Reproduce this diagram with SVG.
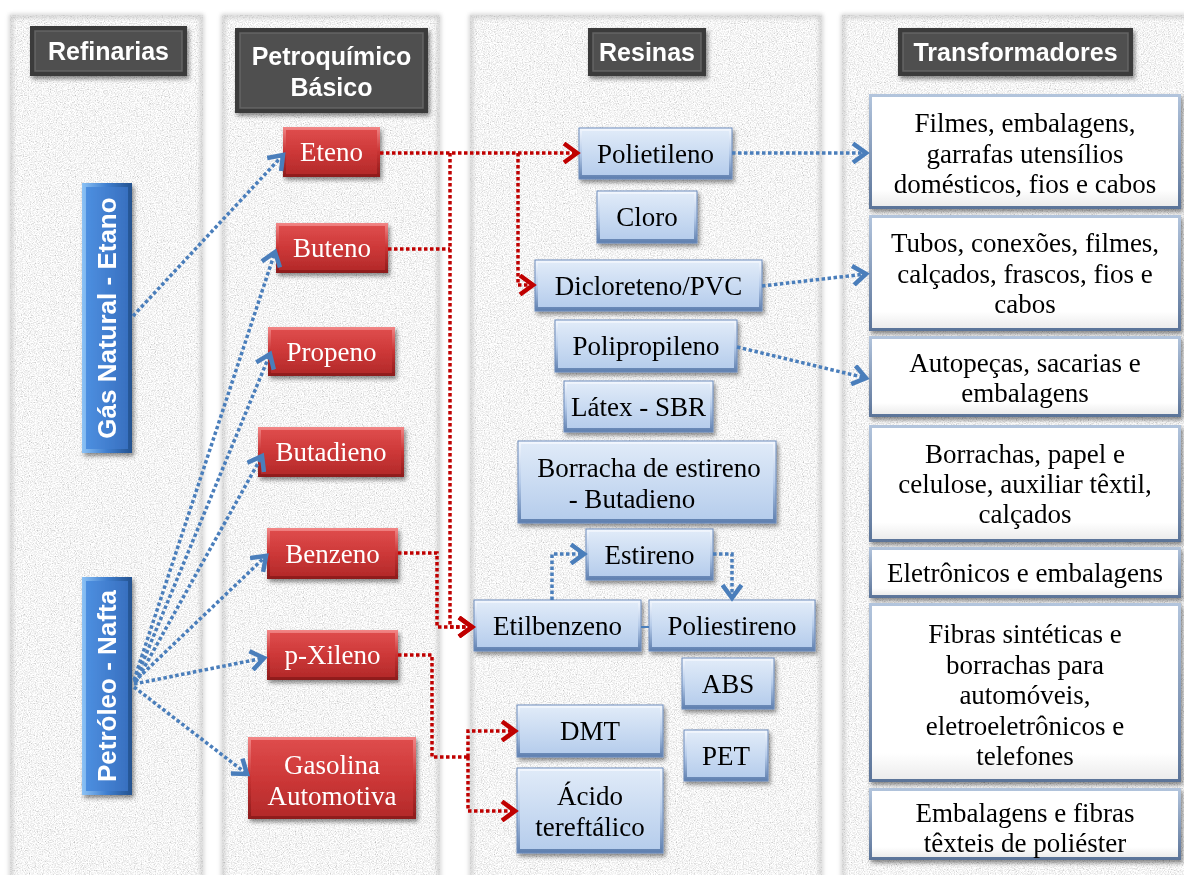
<svg xmlns="http://www.w3.org/2000/svg" width="1184" height="875" viewBox="0 0 1184 875">
<defs>
<style>
.hdr{font-family:"Liberation Sans",Arial,sans-serif;font-weight:bold;font-size:25px;fill:#fff;text-anchor:middle}
.vt{font-family:"Liberation Sans",Arial,sans-serif;font-weight:bold;font-size:26px;fill:#fff;text-anchor:middle}
.rt{font-family:"Liberation Serif","Times New Roman",serif;font-size:27px;fill:#fff;text-anchor:middle}
.bt{font-family:"Liberation Serif","Times New Roman",serif;font-size:27px;fill:#000;text-anchor:middle}
.red{fill:none;stroke:#c00000;stroke-width:3.5;stroke-dasharray:3.5 2.5}
.blue{fill:none;stroke:#4a7ebb;stroke-width:3.5;stroke-dasharray:3.5 2.5}
.col{fill:#e6e6e6}
.ho{fill:#3b3b3b}
.hi{fill:#4f4f4f;stroke:#646464;stroke-width:1.5}
.ro{fill:url(#redEdge)}
.ri{fill:url(#redBody)}
.bo{fill:url(#resEdge);stroke:#6c8cbc;stroke-width:1}
.bi{fill:url(#resBody)}
.to{fill:url(#trEdge)}
.ti{fill:url(#trBody)}
.lo{fill:url(#lbEdge)}
.li{fill:url(#lbBody)}
</style>
<filter id="tex" x="0" y="0" width="100%" height="100%">
<feTurbulence type="fractalNoise" baseFrequency="0.85" numOctaves="2" seed="7" result="n"/>
<feColorMatrix in="n" type="matrix" values="0.5 0.5 0.5 0 0.16  0.5 0.5 0.5 0 0.16  0.5 0.5 0.5 0 0.16  0 0 0 0 1" result="g"/>
<feComposite in="g" in2="SourceGraphic" operator="in"/>
</filter>
<filter id="edge" x="-5%" y="-5%" width="110%" height="110%">
<feGaussianBlur stdDeviation="2"/>
</filter>
<filter id="sh" x="-10%" y="-10%" width="130%" height="140%">
<feDropShadow dx="2" dy="3" stdDeviation="2" flood-color="#000" flood-opacity="0.45"/>
</filter>
<linearGradient id="redEdge" x1="0" y1="0" x2="0" y2="1">
<stop offset="0" stop-color="#f28686"/><stop offset="0.5" stop-color="#c83232"/><stop offset="1" stop-color="#8c1c1c"/>
</linearGradient>
<linearGradient id="redBody" x1="0" y1="0" x2="0" y2="1">
<stop offset="0" stop-color="#de4c4c"/><stop offset="0.5" stop-color="#cd3838"/><stop offset="1" stop-color="#b42a2a"/>
</linearGradient>
<linearGradient id="resEdge" x1="0" y1="0" x2="0" y2="1">
<stop offset="0" stop-color="#f4f8fe"/><stop offset="0.5" stop-color="#b6cbe9"/><stop offset="1" stop-color="#5d7eae"/>
</linearGradient>
<linearGradient id="resBody" x1="0" y1="0" x2="0" y2="1">
<stop offset="0" stop-color="#dfeaf8"/><stop offset="1" stop-color="#b6cdec"/>
</linearGradient>
<linearGradient id="trEdge" x1="0" y1="0" x2="0" y2="1">
<stop offset="0" stop-color="#b3c5dd"/><stop offset="1" stop-color="#5a7398"/>
</linearGradient>
<linearGradient id="trBody" x1="0" y1="0" x2="0" y2="1">
<stop offset="0" stop-color="#ffffff"/><stop offset="0.85" stop-color="#ffffff"/><stop offset="1" stop-color="#ececec"/>
</linearGradient>
<linearGradient id="lbEdge" x1="0" y1="0" x2="1" y2="0">
<stop offset="0" stop-color="#8cc2f5"/><stop offset="0.5" stop-color="#3f7ecf"/><stop offset="1" stop-color="#24528f"/>
</linearGradient>
<linearGradient id="lbBody" x1="0" y1="0" x2="1" y2="0">
<stop offset="0" stop-color="#4d8fe0"/><stop offset="1" stop-color="#3870c0"/>
</linearGradient>
<marker id="ar" viewBox="0 0 20 22" refX="16" refY="11" markerWidth="20" markerHeight="22" markerUnits="userSpaceOnUse" orient="auto">
<path d="M3,1.5 L16,11 L3,20.5" fill="none" stroke="#c00000" stroke-width="4.5"/>
</marker>
<marker id="ab" viewBox="0 0 20 22" refX="16" refY="11" markerWidth="20" markerHeight="22" markerUnits="userSpaceOnUse" orient="auto">
<path d="M3,1.5 L16,11 L3,20.5" fill="none" stroke="#4a7ebb" stroke-width="4.5"/>
</marker>
</defs>

<rect x="0" y="0" width="1184" height="875" fill="#ffffff"/>

<g id="columns">
<rect class="col" x="10" y="15" width="193" height="860"/>
<rect class="col" x="222" y="15" width="218" height="860"/>
<rect class="col" x="470" y="15" width="352" height="860"/>
<rect class="col" x="842" y="15" width="342" height="860"/>
<rect x="10" y="15" width="193" height="860" filter="url(#tex)"/>
<rect x="222" y="15" width="218" height="860" filter="url(#tex)"/>
<rect x="470" y="15" width="352" height="860" filter="url(#tex)"/>
<rect x="842" y="15" width="342" height="860" filter="url(#tex)"/>
<g fill="none" stroke="#b5b5b5" stroke-width="3" filter="url(#edge)" opacity="0.8">
<rect x="11" y="16" width="191" height="870"/>
<rect x="223" y="16" width="216" height="870"/>
<rect x="471" y="16" width="350" height="870"/>
<rect x="843" y="16" width="350" height="870"/>
</g>
</g>

<g id="h-refinarias" filter="url(#sh)">
<rect class="ho" x="30" y="26" width="157" height="50"/>
<rect class="hi" x="35" y="31" width="147" height="40"/>
<text class="hdr" x="108.5" y="60">Refinarias</text>
</g>
<g id="h-petroquimico" filter="url(#sh)">
<rect class="ho" x="235" y="28" width="193" height="85"/>
<rect class="hi" x="240" y="33" width="183" height="75"/>
<text class="hdr" x="331.5" y="65">Petroquímico</text>
<text class="hdr" x="331.5" y="96">Básico</text>
</g>
<g id="h-resinas" filter="url(#sh)">
<rect class="ho" x="588" y="28" width="118" height="48"/>
<rect class="hi" x="593" y="33" width="108" height="38"/>
<text class="hdr" x="647" y="61">Resinas</text>
</g>
<g id="h-transformadores" filter="url(#sh)">
<rect class="ho" x="898" y="28" width="235" height="48"/>
<rect class="hi" x="903" y="33" width="225" height="38"/>
<text class="hdr" x="1015.5" y="61">Transformadores</text>
</g>

<g id="n-gas" filter="url(#sh)">
<rect class="lo" x="82" y="183" width="50" height="270"/>
<rect class="li" x="86" y="187" width="42" height="262"/>
<text class="vt" transform="translate(116,318) rotate(-90)">Gás Natural - Etano</text>
</g>
<g id="n-petroleo" filter="url(#sh)">
<rect class="lo" x="82" y="577" width="50" height="218"/>
<rect class="li" x="86" y="581" width="42" height="210"/>
<text class="vt" transform="translate(116,686) rotate(-90)">Petróleo - Nafta</text>
</g>

<g id="n-eteno" filter="url(#sh)">
<rect class="ro" x="283" y="127" width="97" height="50"/>
<rect class="ri" x="286" y="130" width="91" height="44"/>
<text class="rt" x="331.5" y="161">Eteno</text>
</g>
<g id="n-buteno" filter="url(#sh)">
<rect class="ro" x="276" y="223" width="112" height="50"/>
<rect class="ri" x="279" y="226" width="106" height="44"/>
<text class="rt" x="332" y="257">Buteno</text>
</g>
<g id="n-propeno" filter="url(#sh)">
<rect class="ro" x="268" y="327" width="127" height="49"/>
<rect class="ri" x="271" y="330" width="121" height="43"/>
<text class="rt" x="331.5" y="361">Propeno</text>
</g>
<g id="n-butadieno" filter="url(#sh)">
<rect class="ro" x="258" y="427" width="146" height="50"/>
<rect class="ri" x="261" y="430" width="140" height="44"/>
<text class="rt" x="331" y="461">Butadieno</text>
</g>
<g id="n-benzeno" filter="url(#sh)">
<rect class="ro" x="267" y="528" width="131" height="51"/>
<rect class="ri" x="270" y="531" width="125" height="45"/>
<text class="rt" x="332.5" y="563">Benzeno</text>
</g>
<g id="n-pxileno" filter="url(#sh)">
<rect class="ro" x="267" y="630" width="131" height="50"/>
<rect class="ri" x="270" y="633" width="125" height="44"/>
<text class="rt" x="332.5" y="664">p-Xileno</text>
</g>
<g id="n-gasolina" filter="url(#sh)">
<rect class="ro" x="248" y="737" width="168" height="82"/>
<rect class="ri" x="251" y="740" width="162" height="76"/>
<text class="rt" x="332" y="774">Gasolina</text>
<text class="rt" x="332" y="805">Automotiva</text>
</g>

<g id="n-polietileno" filter="url(#sh)">
<rect class="bo" x="579" y="128" width="153" height="51"/>
<rect class="bi" x="582" y="131" width="147" height="44"/>
<text class="bt" x="655.5" y="163">Polietileno</text>
</g>
<g id="n-cloro" filter="url(#sh)">
<rect class="bo" x="597" y="191" width="100" height="52"/>
<rect class="bi" x="600" y="194" width="94" height="45"/>
<text class="bt" x="647" y="226">Cloro</text>
</g>
<g id="n-dicloreteno" filter="url(#sh)">
<rect class="bo" x="535" y="260" width="227" height="51"/>
<rect class="bi" x="538" y="263" width="221" height="44"/>
<text class="bt" x="648.5" y="295">Dicloreteno/PVC</text>
</g>
<g id="n-polipropileno" filter="url(#sh)">
<rect class="bo" x="555" y="320" width="182" height="52"/>
<rect class="bi" x="558" y="323" width="176" height="45"/>
<text class="bt" x="646" y="355">Polipropileno</text>
</g>
<g id="n-latex" filter="url(#sh)">
<rect class="bo" x="564" y="381" width="149" height="51"/>
<rect class="bi" x="567" y="384" width="143" height="44"/>
<text class="bt" x="638.5" y="416">Látex - SBR</text>
</g>
<g id="n-borracha" filter="url(#sh)">
<rect class="bo" x="518" y="441" width="258" height="82"/>
<rect class="bi" x="521" y="444" width="252" height="75"/>
<text class="bt" x="649" y="477">Borracha de estireno</text>
<text class="bt" x="632" y="508">- Butadieno</text>
</g>
<g id="n-estireno" filter="url(#sh)">
<rect class="bo" x="586" y="529" width="127" height="51"/>
<rect class="bi" x="589" y="532" width="121" height="44"/>
<text class="bt" x="649.5" y="564">Estireno</text>
</g>
<g id="n-etilbenzeno" filter="url(#sh)">
<rect class="bo" x="474" y="600" width="167" height="51"/>
<rect class="bi" x="477" y="603" width="161" height="44"/>
<text class="bt" x="557.5" y="635">Etilbenzeno</text>
</g>
<g id="n-poliestireno" filter="url(#sh)">
<rect class="bo" x="649" y="600" width="166" height="51"/>
<rect class="bi" x="652" y="603" width="160" height="44"/>
<text class="bt" x="732" y="635">Poliestireno</text>
</g>
<g id="n-abs" filter="url(#sh)">
<rect class="bo" x="682" y="658" width="92" height="51"/>
<rect class="bi" x="685" y="661" width="86" height="44"/>
<text class="bt" x="728" y="693">ABS</text>
</g>
<g id="n-dmt" filter="url(#sh)">
<rect class="bo" x="517" y="705" width="146" height="52"/>
<rect class="bi" x="520" y="708" width="140" height="45"/>
<text class="bt" x="590" y="740">DMT</text>
</g>
<g id="n-pet" filter="url(#sh)">
<rect class="bo" x="684" y="730" width="84" height="51"/>
<rect class="bi" x="687" y="733" width="78" height="44"/>
<text class="bt" x="726" y="765">PET</text>
</g>
<g id="n-acido" filter="url(#sh)">
<rect class="bo" x="517" y="768" width="146" height="85"/>
<rect class="bi" x="520" y="771" width="140" height="78"/>
<text class="bt" x="590" y="805">Ácido</text>
<text class="bt" x="590" y="836">tereftálico</text>
</g>

<g id="t-1" filter="url(#sh)">
<rect class="to" x="869" y="94" width="312" height="115"/>
<rect class="ti" x="872" y="97" width="306" height="109"/>
<text class="bt" x="1025" y="132">Filmes, embalagens,</text>
<text class="bt" x="1025" y="162.5">garrafas utensílios</text>
<text class="bt" x="1025" y="193">domésticos, fios e cabos</text>
</g>
<g id="t-2" filter="url(#sh)">
<rect class="to" x="869" y="215" width="312" height="116"/>
<rect class="ti" x="872" y="218" width="306" height="110"/>
<text class="bt" x="1025" y="252">Tubos, conexões, filmes,</text>
<text class="bt" x="1025" y="283">calçados, frascos, fios e</text>
<text class="bt" x="1025" y="313">cabos</text>
</g>
<g id="t-3" filter="url(#sh)">
<rect class="to" x="869" y="336" width="312" height="81"/>
<rect class="ti" x="872" y="339" width="306" height="75"/>
<text class="bt" x="1025" y="372">Autopeças, sacarias e</text>
<text class="bt" x="1025" y="402">embalagens</text>
</g>
<g id="t-4" filter="url(#sh)">
<rect class="to" x="869" y="425" width="312" height="117"/>
<rect class="ti" x="872" y="428" width="306" height="111"/>
<text class="bt" x="1025" y="463">Borrachas, papel e</text>
<text class="bt" x="1025" y="493">celulose, auxiliar têxtil,</text>
<text class="bt" x="1025" y="523">calçados</text>
</g>
<g id="t-5" filter="url(#sh)">
<rect class="to" x="869" y="547" width="312" height="51"/>
<rect class="ti" x="872" y="550" width="306" height="45"/>
<text class="bt" x="1025" y="582">Eletrônicos e embalagens</text>
</g>
<g id="t-6" filter="url(#sh)">
<rect class="to" x="869" y="603" width="312" height="179"/>
<rect class="ti" x="872" y="606" width="306" height="173"/>
<text class="bt" x="1025" y="643">Fibras sintéticas e</text>
<text class="bt" x="1025" y="673.5">borrachas para</text>
<text class="bt" x="1025" y="704">automóveis,</text>
<text class="bt" x="1025" y="734.5">eletroeletrônicos e</text>
<text class="bt" x="1025" y="765">telefones</text>
</g>
<g id="t-7" filter="url(#sh)">
<rect class="to" x="869" y="788" width="312" height="72"/>
<rect class="ti" x="872" y="791" width="306" height="66"/>
<text class="bt" x="1025" y="822">Embalagens e fibras</text>
<text class="bt" x="1025" y="852">têxteis de poliéster</text>
</g>

<g id="connectors">
<path class="red" d="M380,153 H577" marker-end="url(#ar)"/>
<path class="red" d="M518,153 V285 H533" marker-end="url(#ar)"/>
<path class="red" d="M450,153 V627 H472" marker-end="url(#ar)"/>
<path class="red" d="M388,249 H450"/>
<path class="red" d="M398,553 H437 V627 H472" marker-end="url(#ar)"/>
<path class="red" d="M398,655 H432 V757 H468"/>
<path class="red" d="M468,757 V731 H515" marker-end="url(#ar)"/>
<path class="red" d="M468,757 V811 H515" marker-end="url(#ar)"/>
<path class="blue" d="M133,316 L283,155" marker-end="url(#ab)"/>
<path class="blue" d="M134,680 L275,252" marker-end="url(#ab)"/>
<path class="blue" d="M135,681 L270,354" marker-end="url(#ab)"/>
<path class="blue" d="M136,682 L262,456" marker-end="url(#ab)"/>
<path class="blue" d="M134,682 L266,556" marker-end="url(#ab)"/>
<path class="blue" d="M134,684 L264,658" marker-end="url(#ab)"/>
<path class="blue" d="M134,687 L247,774" marker-end="url(#ab)"/>
<path class="blue" d="M732,153 H866" marker-end="url(#ab)"/>
<path class="blue" d="M762,286 L866,274" marker-end="url(#ab)"/>
<path class="blue" d="M737,347 L866,378" marker-end="url(#ab)"/>
<path class="blue" d="M552,600 V554 H584" marker-end="url(#ab)"/>
<path class="blue" d="M713,554 H732 V598" marker-end="url(#ab)"/>
<path d="M641,627 H649" fill="none" stroke="#4a7ebb" stroke-width="2"/>
</g>
</svg>
